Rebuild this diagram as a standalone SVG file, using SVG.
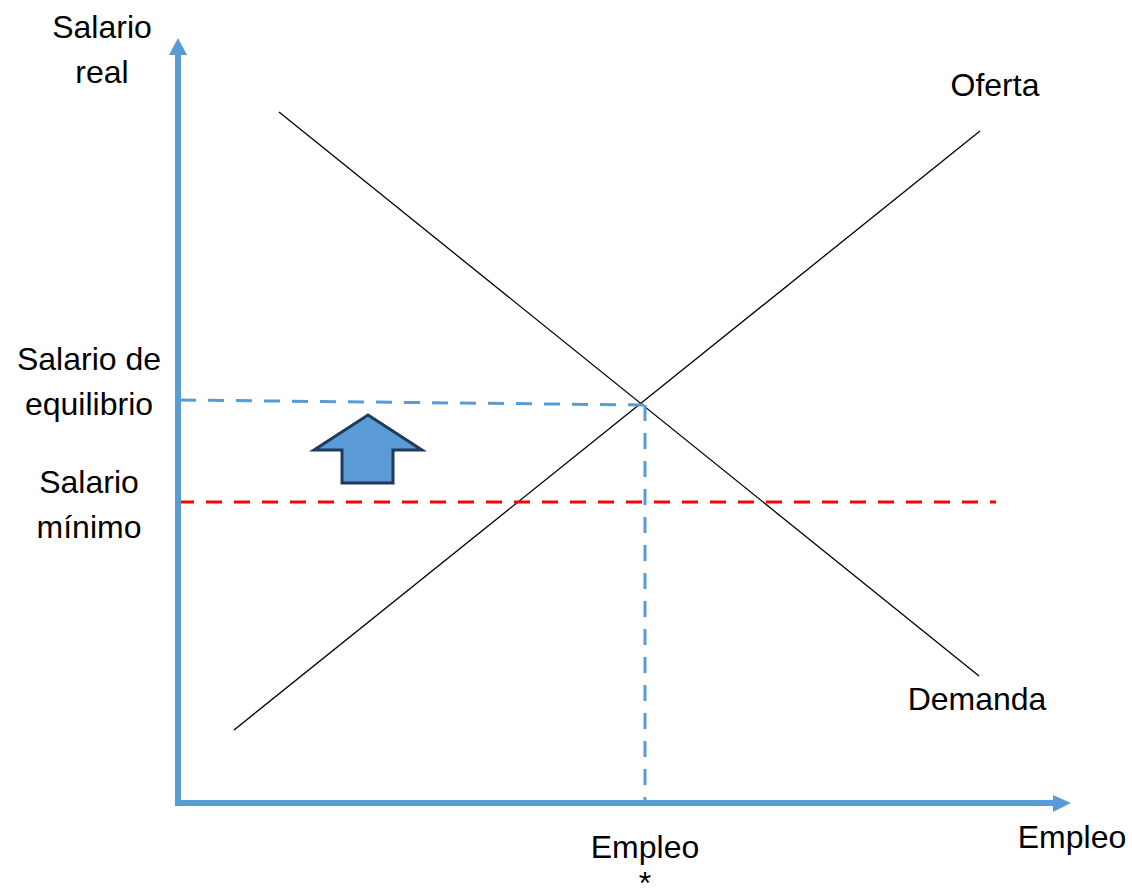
<svg xmlns="http://www.w3.org/2000/svg" width="1132" height="888" viewBox="0 0 1132 888">
<style>
.t{font-family:"Liberation Sans","Open Sans",sans-serif;font-size:32px;fill:#000;text-anchor:middle}
.curve{stroke:#000;stroke-width:1.3;fill:none}
.axis{stroke:#5b9bd5;stroke-width:6;fill:none}
.dash{stroke:#5b9bd5;stroke-width:3;stroke-dasharray:16 12;fill:none}
.rdash{stroke:#ff0000;stroke-width:3;stroke-dasharray:16 12;fill:none}
</style>
<rect width="1132" height="888" fill="#fff"/>
<g id="connectors">
<line class="curve" x1="279" y1="112" x2="979" y2="676"/>
<line class="curve" x1="234" y1="730" x2="980" y2="131"/>
<path class="dash" d="M180,400 L645,405"/>
<path class="dash" d="M645,405 L645,803"/>
<path class="rdash" d="M178,502 L996,502"/>
<line class="axis" x1="178" y1="803" x2="178" y2="54"/>
<polygon points="178,38 169,55 187,55" fill="#5b9bd5"/>
<line class="axis" x1="175" y1="803" x2="1054" y2="803"/>
<polygon points="1071,803 1053,795 1053,812" fill="#5b9bd5"/>
</g>
<g id="arrow-up">
<polygon points="368,415 422,450 393,450 393,483 342,483 342,450 314,450" fill="#5b9bd5" stroke="#1f3a5a" stroke-width="3" stroke-linejoin="miter"/>
</g>
<g id="label-y">
<text class="t" x="102" y="38">Salario</text>
<text class="t" x="102" y="83">real</text>
</g>
<g id="label-oferta"><text class="t" x="995" y="96">Oferta</text></g>
<g id="label-demanda"><text class="t" x="977" y="710">Demanda</text></g>
<g id="label-eq">
<text class="t" x="89" y="370">Salario de</text>
<text class="t" x="89" y="415">equilibrio</text>
</g>
<g id="label-min">
<text class="t" x="89" y="493">Salario</text>
<text class="t" x="89" y="538">mínimo</text>
</g>
<g id="label-x"><text class="t" x="1072" y="848">Empleo</text></g>
<g id="label-empleo-star">
<text class="t" x="645" y="858">Empleo</text>
<text class="t" x="645" y="894">*</text>
</g>
</svg>
